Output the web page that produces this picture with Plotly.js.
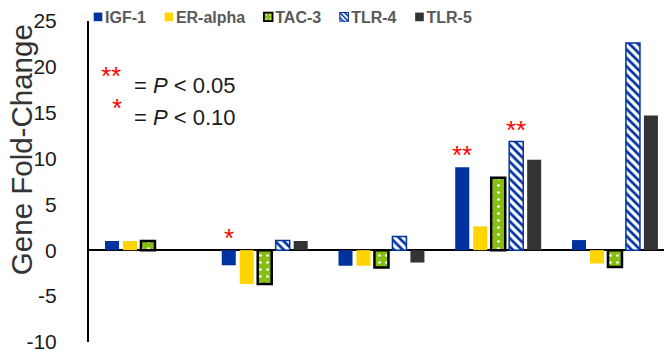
<!DOCTYPE html>
<html>
<head>
<meta charset="utf-8">
<script src="https://cdn.plot.ly/plotly-3.0.1.min.js"></script>
<style>html,body{margin:0;padding:0;background:#fff;}#chart{width:664px;height:354px;}</style>
</head>
<body>
<div id="chart"></div>
<script>
const groups = [0, 1, 2, 3, 4];
const seriesNames = ["IGF-1", "ER-alpha", "TAC-3", "TLR-4", "TLR-5"];
const igf1   = [1.0, -1.65, -1.7, 9.05, 1.1];
const eralpha= [1.0, -3.7, -1.7, 2.6, -1.45];
const tac3   = [1.0, -3.7, -1.9, 7.9, -1.85];
const tlr4   = [null, 1.05, 1.5, 11.85, 22.6];
const tlr5   = [null, 1.0, -1.35, 9.87, 14.7];
const yTickVals = [-10, -5, 0, 5, 10, 15, 20, 25];
const yTickText = ["-10", "-5", "0", "5", "10", "15", "20", "25"];
const yTitle = "Gene Fold-Change";
// significance markers: group index, series index, text
const starGroup  = [1, 3, 3];
const starSeries = [0, 0, 3];
const starText   = ["*", "**", "**"];

const values = [igf1, eralpha, tac3, tlr4, tlr5];
const blue = "#0033A0", gold = "#FFD400", green = "#86BE12", dark = "#333333";
const FONT = "Liberation Sans, Arial, Helvetica, sans-serif";
const styles = [
  {color: blue},
  {color: gold},
  {color: green, line: {color: "#000", width: 2.5}, pattern: {shape: ".", fgcolor: "#ffffff", bgcolor: green, size: 7, solidity: 0.12}},
  {color: "#ffffff", line: {color: blue, width: 1.5}, pattern: {shape: "\\", fgcolor: blue, bgcolor: "#ffffff", size: 6, solidity: 0.45}},
  {color: dark}
];

const bargap = 0.23, bargroupgap = 0.22;
const slot = (1 - bargap) / seriesNames.length;

const traces = seriesNames.map((n, i) => ({
  type: "bar", name: n, x: groups, y: values[i], marker: styles[i], hoverinfo: "skip"
}));

const starFont = {family: FONT, size: 26, color: "#FF0000"};
const annotations = starGroup.map((g, k) => {
  const s = starSeries[k];
  const v = values[s][g];
  return {
    x: g + (s - 2) * slot, y: Math.max(v, 0) + 1.3, xref: "x", yref: "y",
    text: starText[k], showarrow: false, yanchor: "middle", font: starFont
  };
});
annotations.push(
  {xref: "paper", yref: "paper", x: 0.059, y: 0.83, xanchor: "right", yanchor: "middle", text: "**", showarrow: false, font: starFont},
  {xref: "paper", yref: "paper", x: 0.074, y: 0.80, xanchor: "left", yanchor: "middle", text: "= <i>P</i> < 0.05", showarrow: false, font: {family: FONT, size: 22, color: "#1a1a1a"}},
  {xref: "paper", yref: "paper", x: 0.061, y: 0.73, xanchor: "right", yanchor: "middle", text: "*", showarrow: false, font: starFont},
  {xref: "paper", yref: "paper", x: 0.074, y: 0.70, xanchor: "left", yanchor: "middle", text: "= <i>P</i> < 0.10", showarrow: false, font: {family: FONT, size: 22, color: "#1a1a1a"}},
  {xref: "paper", yref: "paper", x: -0.117, y: 0.60, xanchor: "center", yanchor: "middle", textangle: -90, text: yTitle, showarrow: false, font: {family: FONT, size: 29.5, color: "#333"}}
);

const layout = {
  width: 664, height: 354,
  margin: {l: 89, r: 0, t: 20, b: 12},
  paper_bgcolor: "#fff", plot_bgcolor: "#fff",
  barmode: "group", bargap: bargap, bargroupgap: bargroupgap,
  font: {family: FONT, color: "#262626"},
  xaxis: {range: [-0.505, 4.42], showticklabels: false, showgrid: false, zeroline: false, showline: false, ticks: "", fixedrange: true},
  yaxis: {
    range: [-10.02, 25], tickvals: yTickVals, ticktext: yTickText, showgrid: false,
    zeroline: true, zerolinecolor: "#000", zerolinewidth: 2,
    showline: true, linecolor: "#000", linewidth: 2,
    ticks: "", ticklabelstandoff: 26, ticklabeloverflow: "allow",
    tickfont: {size: 21, color: "#1a1a1a"}
  },
  showlegend: true,
  legend: {
    orientation: "h", x: 0.0, xanchor: "left", y: 1.066, yanchor: "top",
    font: {size: 16, color: "#595959", family: FONT, weight: "bold"},
    itemwidth: 30, bgcolor: "rgba(0,0,0,0)", traceorder: "normal"
  },
  annotations: annotations
};

const gd = document.getElementById("chart");
Plotly.newPlot(gd, traces, layout, {displayModeBar: false, staticPlot: true}).then(() => {
  // tighten legend: smaller swatches, text close to swatch, compact spacing
  const items = Array.from(gd.querySelectorAll(".legend g.traces"));
  const k = 0.72;
  let x = null;
  items.forEach((g) => {
    const pts = g.querySelector("g.legendpoints");
    if (pts) {
      const bb = pts.getBBox();
      const cx = bb.x + bb.width / 2, cy = bb.y + bb.height / 2;
      const t0 = pts.getAttribute("transform") || "";
      pts.setAttribute("transform", t0 + ` translate(${cx},${cy}) scale(${k}) translate(${-cx},${-cy})`);
    }
    const t = g.querySelector("text.legendtext");
    t.setAttribute("x", 27);
    const w = t.getComputedTextLength();
    const m = /translate\(\s*([-\d.e]+)[ ,]+([-\d.e]+)\s*\)/.exec(g.getAttribute("transform") || "translate(0,0)");
    const gx = parseFloat(m[1]), gy = parseFloat(m[2]);
    if (x === null) x = gx;
    g.setAttribute("transform", `translate(${x},${gy})`);
    x += w + 30;
  });
  // align first swatch centre with target
  if (items.length) {
    const r = items[0].querySelector("g.legendpoints").getBoundingClientRect();
    const delta = 98 - (r.left + r.width / 2);
    items.forEach((g) => {
      const m = /translate\(\s*([-\d.e]+)[ ,]+([-\d.e]+)\s*\)/.exec(g.getAttribute("transform"));
      g.setAttribute("transform", `translate(${parseFloat(m[1]) + delta},${parseFloat(m[2])})`);
    });
  }
});
</script>
</body>
</html>
